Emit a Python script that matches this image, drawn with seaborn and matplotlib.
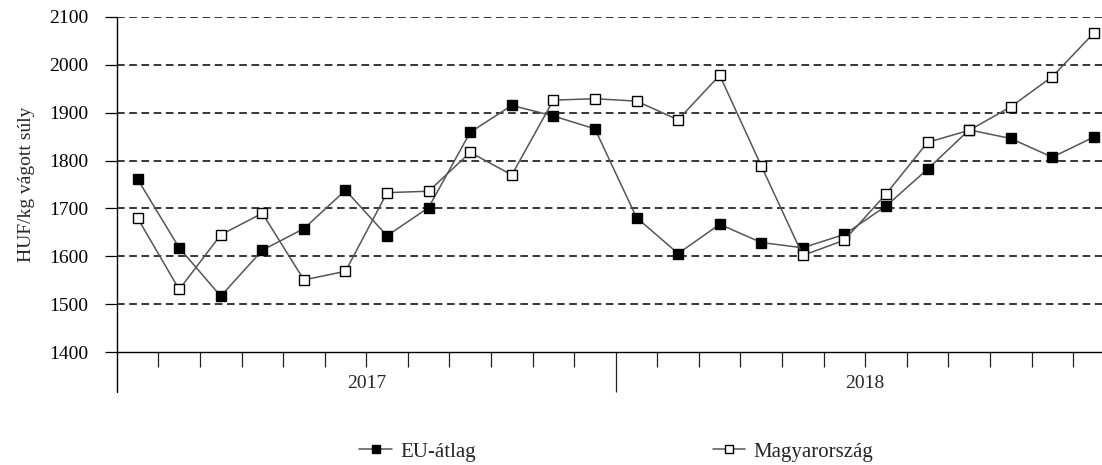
import numpy as np
import pandas as pd
import matplotlib
matplotlib.use("Agg")
import matplotlib.pyplot as plt
import matplotlib.transforms as mtransforms
import seaborn as sns

# monthly prices, 2017-01 .. 2018-12
years = ["2017", "2018"]
months_per_year = 12
eu_atlag = [1761, 1618, 1517, 1613, 1658, 1738, 1643, 1702, 1859, 1915, 1893, 1866,
            1681, 1606, 1667, 1629, 1618, 1646, 1705, 1782, 1864, 1846, 1807, 1849]
magyarorszag = [1680, 1531, 1645, 1690, 1551, 1569, 1733, 1736, 1817, 1770, 1926, 1929,
                1924, 1885, 1978, 1789, 1602, 1634, 1730, 1838, 1863, 1912, 1975, 2066]
y_ticks = [1400, 1500, 1600, 1700, 1800, 1900, 2000, 2100]
y_label = "HUF/kg vágott súly"
series_names = ["EU-átlag", "Magyarország"]

sns.set_theme(style="white")
plt.rcParams["font.family"] = ["Liberation Serif", "DejaVu Serif"]

n = len(eu_atlag)
df = pd.DataFrame({"idx": np.arange(n), "eu": eu_atlag, "hu": magyarorszag})

fig = plt.figure(figsize=(11.02, 4.65), dpi=100)
ax = fig.add_axes([0.106, 0.2424, 0.9055, 0.7216])

line_kw = dict(color="#555555", linewidth=1.1, marker="s", markersize=7.5,
               markeredgecolor="black", markeredgewidth=1.0)
sns.lineplot(data=df, x="idx", y="eu", ax=ax, label=series_names[0],
             markerfacecolor="black", **line_kw)
sns.lineplot(data=df, x="idx", y="hu", ax=ax, label=series_names[1],
             markerfacecolor="white", **line_kw)

ax.set_xlim(-0.5, n - 0.5)
ax.set_ylim(y_ticks[0], y_ticks[-1])
ax.set_yticks(y_ticks)
ax.tick_params(axis="y", labelsize=14, length=8.6, width=0.9, pad=12,
               direction="out", left=True, colors="black")

# dashed horizontal grid
for v in y_ticks[1:]:
    ax.axhline(v, color="black", linestyle=(0, (5, 3)), linewidth=1.1, zorder=0)

# category boundaries on the x axis
bounds = np.arange(0.5, n - 0.5, 1.0)
mid = months_per_year - 0.5
ax.set_xticks([mid])
ax.set_xticks([b for b in bounds if b != mid], minor=True)
ax.set_xticklabels([])
ax.tick_params(axis="x", which="major", length=29, width=0.9, direction="out",
               bottom=True, colors="#222222")
ax.tick_params(axis="x", which="minor", length=11, width=0.9, direction="out",
               bottom=True, colors="#222222")

ax.set_xlabel("")
ax.set_ylabel(y_label, fontsize=14, labelpad=10)

for s in ["top", "right"]:
    ax.spines[s].set_visible(False)
for s in ["left", "bottom"]:
    ax.spines[s].set_color("black")
    ax.spines[s].set_linewidth(1.0)

# y axis continues below the x axis
ax.plot([0, 0], [-0.118, 0], transform=ax.transAxes, color="black",
        linewidth=1.0, clip_on=False)

# year labels
trans = mtransforms.blended_transform_factory(ax.transData, ax.transAxes)
for i, yr in enumerate(years):
    xc = i * months_per_year + (months_per_year - 1) / 2
    ax.text(xc, -0.092, yr, transform=trans, ha="center", va="center", fontsize=14)

ax.legend_.remove()
handles, labels = ax.get_legend_handles_labels()
fig.legend(handles, labels, loc="center", bbox_to_anchor=(0.5594, 0.028), ncol=2,
           frameon=False, fontsize=15, handlelength=1.55, handletextpad=0.4,
           columnspacing=11.4, markerscale=0.8)

fig.savefig("out.png", dpi=100)
